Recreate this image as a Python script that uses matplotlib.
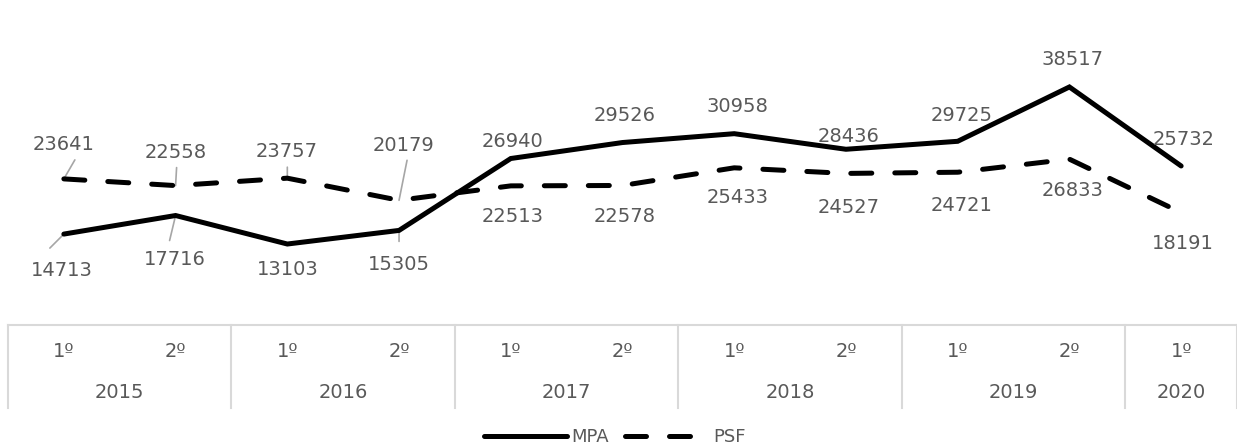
import matplotlib.pyplot as plt

# ── Data ──────────────────────────────────────────────────────────────────────
semesters = ['1º', '2º', '1º', '2º', '1º', '2º', '1º', '2º', '1º', '2º', '1º']
years = ['2015', '2016', '2017', '2018', '2019', '2020']
year_spans = [2, 2, 2, 2, 2, 1]
mpa = [14713, 17716, 13103, 15305, 26940, 29526, 30958, 28436, 29725, 38517, 25732]
psf = [23641, 22558, 23757, 20179, 22513, 22578, 25433, 24527, 24721, 26833, 18191]

# label offsets from the point (pixels), and leader-line ends (None = no leader)
mpa_off = [(-2, -36), (-1, -44), (0, -25), (0, -34), (2, 17), (2, 27),
           (3, 27), (3, 13), (4, 26), (3, 27), (2, 26)]
mpa_lead = [(-14, -14), (-6, -25), None, (0, -11), None, None,
            None, None, None, None, None]
psf_off = [(0, 34), (0, 33), (-1, 27), (4, 55), (2, -31), (2, -31),
           (3, -30), (3, -34), (4, -33), (3, -31), (2, -31)]
psf_lead = [(11, 19), (1, 18), (0, 11), (8, 40), None, None,
            None, None, None, None, None]

TXT = '#595959'
GRID = '#d9d9d9'
LEAD = '#a6a6a6'
FS = 14

plt.rcParams['font.family'] = ['DejaVu Sans']

W, H = 1237, 446
fig = plt.figure(figsize=(W / 100, H / 100), dpi=100)
fig.patch.set_facecolor('white')

x0, x1 = 8, 1237
ybot, ytop = 325, 16
ax = fig.add_axes([x0 / W, 1 - ybot / H, (x1 - x0) / W, (ybot - ytop) / H])
ax.set_xlim(-0.5, 10.5)
ax.set_ylim(0, 50000)
ax.axis('off')

xs = list(range(len(mpa)))
ax.plot(xs, mpa, color='black', lw=3.6, solid_capstyle='round',
        solid_joinstyle='miter', label='MPA', zorder=3)
ax.plot(xs, psf, color='black', lw=3.6, dashes=(4.2, 4.6), dash_capstyle='round',
        label='PSF', zorder=3)


def labels(vals, offs, leads):
    for i, v in enumerate(vals):
        ax.annotate(f'{v}', xy=(i, v), xytext=offs[i], textcoords='offset pixels',
                    ha='center', va='center', fontsize=FS, color=TXT, zorder=4)
        if leads[i] is not None:
            ax.annotate('', xy=(i, v), xytext=leads[i], textcoords='offset pixels',
                        arrowprops=dict(arrowstyle='-', color=LEAD, lw=1.2,
                                        shrinkA=0, shrinkB=0), zorder=2)


labels(mpa, mpa_off, mpa_lead)
labels(psf, psf_off, psf_lead)

# ── Category table under the plot ─────────────────────────────────────────────
tb = 408
tax = fig.add_axes([x0 / W, 1 - tb / H, (x1 - x0) / W, (tb - ybot) / H])
tax.set_xlim(-0.5, 10.5)
tax.set_ylim(0, 1)
tax.axis('off')
tax.plot([-0.5, 10.5], [1, 1], color=GRID, lw=1.5, clip_on=False)
for i, s in enumerate(semesters):
    tax.text(i, 0.675, s, ha='center', va='center', fontsize=FS, color=TXT)
edge = -0.5
tax.plot([edge, edge], [0, 1], color=GRID, lw=1.5, clip_on=False)
for y, n in zip(years, year_spans):
    tax.text(edge + n / 2, 0.19, y, ha='center', va='center', fontsize=FS, color=TXT)
    edge += n
    tax.plot([edge, edge], [0, 1], color=GRID, lw=1.5, clip_on=False)

fig.legend(loc='center', bbox_to_anchor=(0.497, 1 - 437 / H), ncol=2, frameon=False,
           fontsize=13, labelcolor=TXT, handlelength=4.6, handletextpad=0.25,
           columnspacing=0.9)

plt.savefig('out.png', dpi=100, facecolor='white')
